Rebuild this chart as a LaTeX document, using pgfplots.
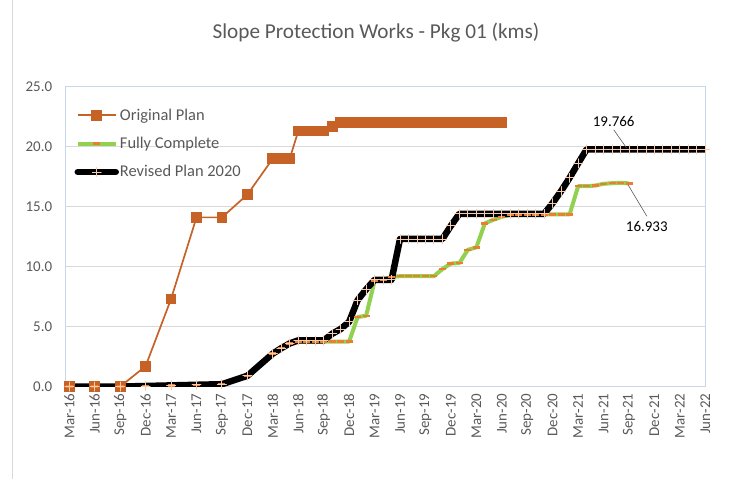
\documentclass[border=0pt]{standalone}
\usepackage{fontspec}
\setmainfont{Carlito}
\usepackage{pgfplots}
\pgfplotsset{compat=1.18}
\definecolor{origc}{RGB}{198,98,38}
\definecolor{fullc}{RGB}{146,208,80}
\definecolor{dashc}{RGB}{237,125,49}
\definecolor{plusc}{RGB}{248,203,173}
\definecolor{txtc}{RGB}{89,89,89}
\definecolor{gridc}{RGB}{217,217,217}
\definecolor{framec}{RGB}{200,215,235}
\begin{document}
\begin{tikzpicture}[x=1bp,y=1bp]
\useasboundingbox (0,0) rectangle (734,479);
\draw[gridc, line width=0.8bp] (12,0) -- (12,479);
\node[txtc, font=\fontsize{21.3}{25}\selectfont] at (376,446) {Slope Protection Works - Pkg 01 (kms)};
\begin{axis}[
  at={(77,77)}, anchor=south west,
  scale only axis, width=640bp, height=300bp,
  xmin=-0.47, xmax=75, ymin=0, ymax=25,
  xtick={0,3,...,75},
  xticklabels={Mar-16,Jun-16,Sep-16,Dec-16,Mar-17,Jun-17,Sep-17,Dec-17,Mar-18,Jun-18,Sep-18,Dec-18,Mar-19,Jun-19,Sep-19,Dec-19,Mar-20,Jun-20,Sep-20,Dec-20,Mar-21,Jun-21,Sep-21,Dec-21,Mar-22,Jun-22},
  ytick={0,5,...,25},
  yticklabel={\pgfmathprintnumber[fixed,fixed zerofill,precision=1,assume math mode=true]{\tick}},
  tick label style={font=\fontsize{15}{18}\selectfont, text=txtc},
  xticklabel style={rotate=90, anchor=east, inner sep=0pt},
  xticklabel shift=7bp,
  yticklabel style={anchor=east, inner sep=0pt},
  yticklabel shift=13bp,
  major tick length=0pt,
  ymajorgrids, grid style={gridc, line width=1bp},
  axis line style={framec, line width=0.8bp},
  legend style={at={(0.0094,0.94)}, anchor=north west, draw=none, fill=none,
    font=\fontsize{16.5}{20}\selectfont, text=txtc, row sep=11.5bp,
    /tikz/every odd column/.append style={column sep=-1bp}},
  legend cell align=left,
  legend image code/.code={\draw[mark repeat=2,mark phase=2] plot coordinates {(0bp,0bp) (19bp,0bp) (38bp,0bp)};},
]
\addplot[origc, line width=1.7bp, mark=square*, mark size=4.5bp, mark options={solid, fill=origc}] coordinates {
(0,0) (3,0) (6,0) (9,1.7) (12,7.3) (15,14.1) (18,14.1) (21,16.0) (24,19.0) (25,19.0) (26,19.0)
(27,21.3) (28,21.3) (29,21.3) (30,21.3) (31,21.7) (32,22.0) (33,22.0) (34,22.0) (35,22.0) (36,22.0)
(37,22.0) (38,22.0) (39,22.0) (40,22.0) (41,22.0) (42,22.0) (43,22.0) (44,22.0) (45,22.0) (46,22.0)
(47,22.0) (48,22.0) (49,22.0) (50,22.0) (51,22.0)};
\addlegendentry{Original Plan}
\addplot[fullc, line width=4bp, line join=round, mark=-, mark size=3.5bp, mark options={dashc, line width=2.5bp}] coordinates {
(0,0) (3,0) (6,0) (9,0.05) (12,0.1) (15,0.15) (18,0.2) (21,0.9) (24,2.75) (25,3.2) (26,3.6)
(27,3.75) (28,3.75) (29,3.75) (30,3.75) (31,3.75) (32,3.75) (33,3.75) (34,5.8) (35,5.9) (36,8.8)
(37,8.9) (38,9.15) (39,9.2) (40,9.2) (41,9.2) (42,9.2) (43,9.2) (44,9.8) (45,10.25) (46,10.3)
(47,11.4) (48,11.6) (49,13.6) (50,13.9) (51,14.15) (52,14.3) (53,14.35) (54,14.35) (55,14.35)
(56,14.35) (57,14.35) (58,14.35) (59,14.35) (60,16.7) (61,16.7) (62,16.75) (63,16.9) (64,16.95)
(65,16.98) (66,16.933)};
\addlegendentry{Fully Complete}
\addplot[black, line width=6.5bp, line join=round, line cap=round, mark=+, mark size=4.5bp, mark options={plusc, line width=0.9bp}] coordinates {
(0,0) (3,0) (6,0) (9,0.05) (12,0.1) (15,0.15) (18,0.2) (21,0.9) (24,2.75) (25,3.2) (26,3.6)
(27,3.85) (28,3.85) (29,3.85) (30,3.85) (31,4.4) (32,4.8) (33,5.4) (34,7.2) (35,8.1) (36,8.9)
(37,8.9) (38,8.9) (39,12.3) (40,12.3) (41,12.3) (42,12.3) (43,12.3) (44,12.3) (45,13.4) (46,14.4)
(47,14.4) (48,14.4) (49,14.4) (50,14.4) (51,14.4) (52,14.4) (53,14.4) (54,14.4) (55,14.4) (56,14.4)
(57,15.3) (58,16.3) (59,17.4) (60,18.6) (61,19.766) (62,19.766) (63,19.766) (64,19.766) (65,19.766)
(66,19.766) (67,19.766) (68,19.766) (69,19.766) (70,19.766) (71,19.766) (72,19.766) (73,19.766)
(74,19.766) (75,19.766)};
\addlegendentry{Revised Plan 2020}
\draw[txtc, line width=0.6bp] (axis cs:64.2,21.4) -- (axis cs:65.7,19.9);
\node[font=\fontsize{15}{18}\selectfont] at (axis cs:64.2,22.1) {19.766};
\draw[txtc, line width=0.6bp] (axis cs:65.9,16.8) -- (axis cs:68.1,14.2);
\node[font=\fontsize{15}{18}\selectfont] at (axis cs:68.1,13.3) {16.933};
\end{axis}
\end{tikzpicture}
\end{document}
